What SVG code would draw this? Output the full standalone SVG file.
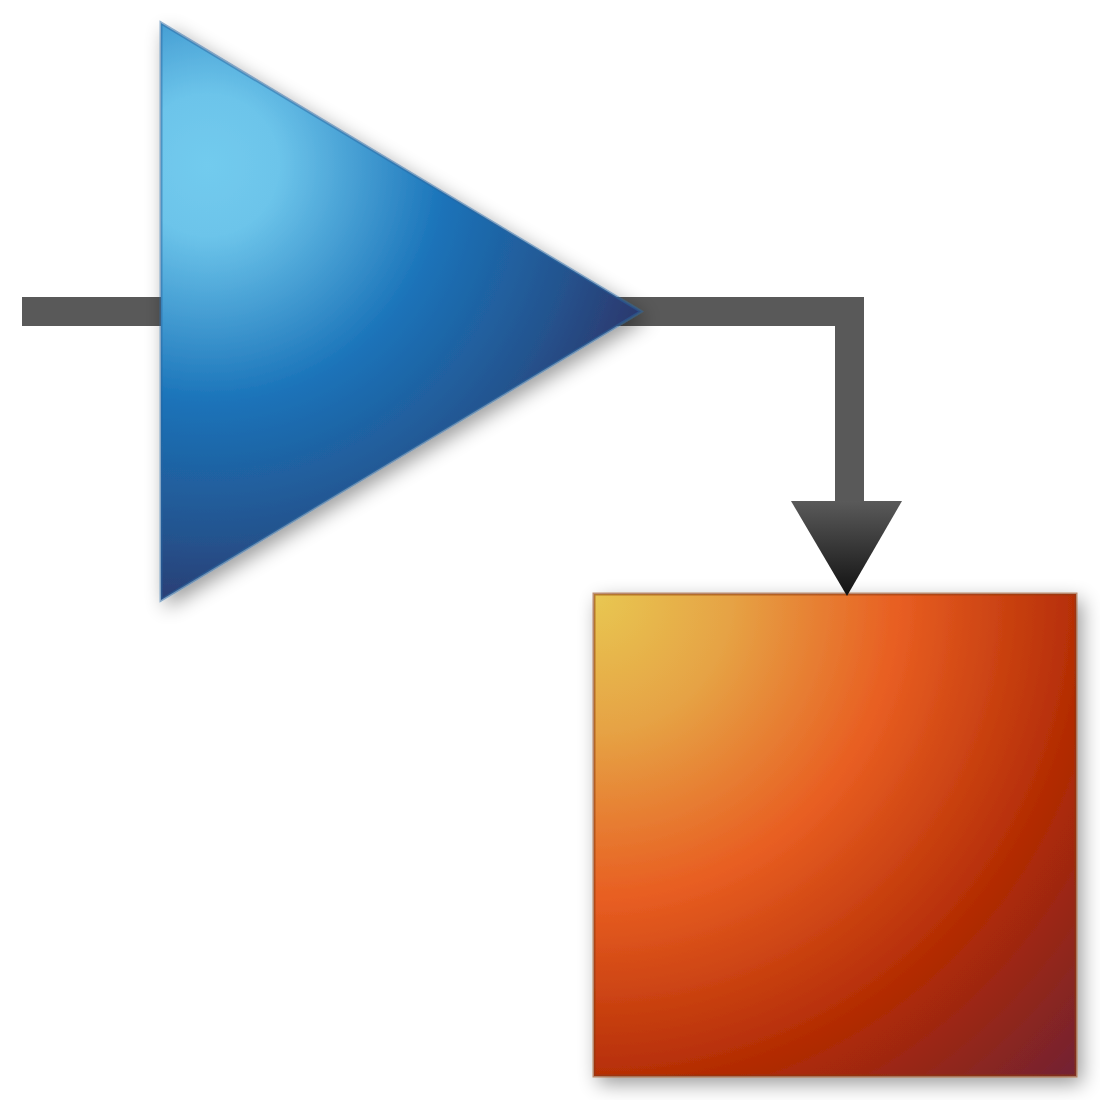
<svg xmlns="http://www.w3.org/2000/svg" width="1100" height="1100" viewBox="0 0 1100 1100">
  <defs>
    <filter id="shadow" x="-20%" y="-20%" width="140%" height="140%">
      <feGaussianBlur in="SourceAlpha" stdDeviation="10"/>
      <feOffset dx="5" dy="7" result="b"/>
      <feComponentTransfer><feFuncA type="linear" slope="0.4"/></feComponentTransfer>
      <feMerge><feMergeNode/><feMergeNode in="SourceGraphic"/></feMerge>
    </filter>
    <radialGradient id="blueGrad" gradientUnits="userSpaceOnUse" cx="208" cy="165" r="475">
      <stop offset="0" stop-color="#72cbee"/>
      <stop offset="0.15" stop-color="#6cc4ea"/>
      <stop offset="0.5" stop-color="#1a73b9"/>
      <stop offset="0.78" stop-color="#24548f"/>
      <stop offset="1" stop-color="#2e3266"/>
    </radialGradient>
    <radialGradient id="orangeGrad" gradientUnits="userSpaceOnUse" cx="595" cy="595" r="690">
      <stop offset="0" stop-color="#e8c752"/>
      <stop offset="0.2" stop-color="#e6a244"/>
      <stop offset="0.44" stop-color="#e85e22"/>
      <stop offset="0.72" stop-color="#b12a03"/>
      <stop offset="1" stop-color="#6e2236"/>
    </radialGradient>
    <linearGradient id="arrowGrad" x1="0" y1="0" x2="0" y2="1">
      <stop offset="0" stop-color="#5a5a5a"/>
      <stop offset="1" stop-color="#111111"/>
    </linearGradient>
  </defs>
  <style>
    .conn { fill: none; stroke: #595959; stroke-width: 29; stroke-linejoin: miter; stroke-linecap: butt; }
  </style>
  <rect width="1100" height="1100" fill="#ffffff"/>

  <g id="block">
    <rect x="594" y="594" width="482" height="482" fill="url(#orangeGrad)" stroke="#8a3a10" stroke-opacity="0.55" stroke-width="3" filter="url(#shadow)"/>
  </g>

  <g id="connectors">
    <path class="conn" d="M22,311.5 H849.5 V503"/>
    <polygon points="791,501 902,501 847,596" fill="url(#arrowGrad)"/>
  </g>

  <g id="amplifier">
    <polygon points="161,23 161,600 641,311.5" fill="url(#blueGrad)" stroke="#2a66a0" stroke-opacity="0.5" stroke-width="3" stroke-linejoin="miter" filter="url(#shadow)"/>
  </g>
</svg>
